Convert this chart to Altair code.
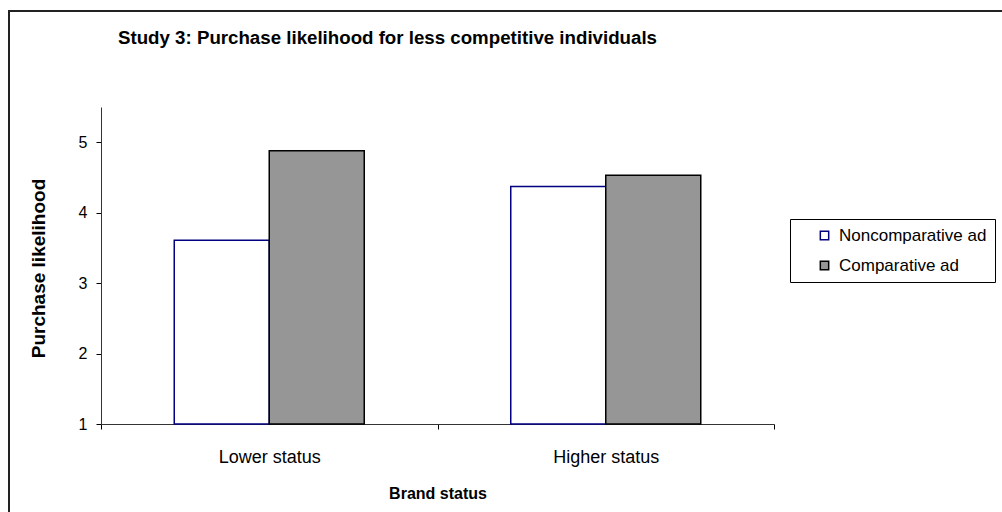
import altair as alt
import pandas as pd

# ---- data ----
categories = ["Lower status", "Higher status"]
series = ["Noncomparative ad", "Comparative ad"]
noncomparative = [3.61, 4.37]
comparative = [4.88, 4.53]
BASELINE = 1

rows = []
for i, c in enumerate(categories):
    rows.append({"status": c, "ad": series[0], "value": noncomparative[i], "base": BASELINE})
    rows.append({"status": c, "ad": series[1], "value": comparative[i], "base": BASELINE})
df = pd.DataFrame(rows)

FONT = "Liberation Sans"
W, H = 673, 317

legend_opts = dict(title=None, orient="none", legendX=689, legendY=112,
                   labelFontSize=17, labelFont=FONT, labelColor="black",
                   symbolType="square", symbolSize=70,
                   symbolStrokeWidth=1.5, rowPadding=12,
                   padding=8, symbolOffset=18,
                   strokeColor="black", fillColor="white",
                   labelOffset=6)

bars = alt.Chart(df).mark_bar(strokeWidth=1.5).encode(
    x=alt.X("status:N", sort=categories,
            scale=alt.Scale(paddingInner=0, paddingOuter=0),
            axis=alt.Axis(title="Brand status", labelAngle=0, tickBand="extent",
                          grid=False,
                          labelFontSize=18, labelFont=FONT, labelColor="black",
                          labelPadding=19, tickSize=5, tickColor="black",
                          domainColor="#333333", titleFontSize=16, titleFont=FONT,
                          titleFontWeight="bold", titleY=69, titleBaseline="middle")),
    xOffset=alt.XOffset("ad:N", sort=series,
                        scale=alt.Scale(paddingInner=0, paddingOuter=0.771)),
    y=alt.Y("value:Q",
            scale=alt.Scale(domain=[1, 5.5], zero=False, nice=False),
            axis=alt.Axis(title="Purchase likelihood", values=[1, 2, 3, 4, 5],
                          grid=False, tickSize=5, tickColor="black",
                          domainColor="#333333", labelFontSize=16, labelFont=FONT,
                          labelColor="black", labelPadding=9,
                          titleFontSize=19, titleFont=FONT, titleFontWeight="bold",
                          titleX=-63, titleY=161, titleAngle=270,
                          titleAlign="center", titleBaseline="middle")),
    y2="base:Q",
    fill=alt.Fill("ad:N", sort=series,
                  scale=alt.Scale(domain=series, range=["white", "#969696"]),
                  legend=alt.Legend(**legend_opts)),
    stroke=alt.Stroke("ad:N", sort=series,
                      scale=alt.Scale(domain=series, range=["#000080", "black"]),
                      legend=alt.Legend(**legend_opts)),
)

frame = alt.Chart(pd.DataFrame({"k": [0]})).mark_rect(
    fill="transparent", stroke="#222222", strokeWidth=2
).encode(
    x=alt.value(-92), x2=alt.value(960), y=alt.value(-96), y2=alt.value(520)
)

chart = alt.layer(frame, bars).properties(
    width=W, height=H,
    background="white",
    title=alt.TitleParams("Study 3: Purchase likelihood for less competitive individuals",
                          anchor="start", frame="group", dx=17, offset=0, dy=53,
                          baseline="alphabetic",
                          fontSize=18.7, font=FONT, fontWeight="bold", color="black"),
    autosize=alt.AutoSizeParams(type="none"),
    padding={"left": 101, "top": 107, "right": 228, "bottom": 88},
).configure_view(stroke="white", strokeOpacity=0)

chart.save("out.html", embed_options={"renderer": "svg", "actions": False})
